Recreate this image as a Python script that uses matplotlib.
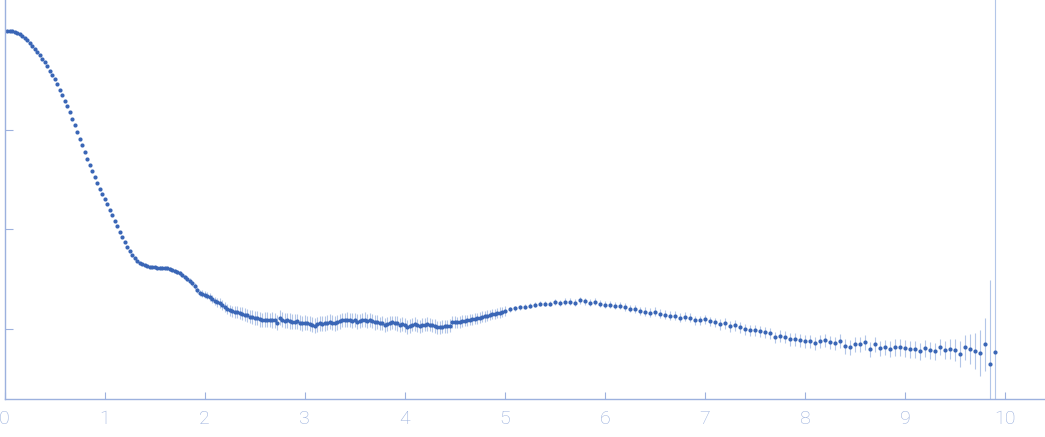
import numpy as np
import matplotlib.pyplot as plt

# scattering curve, log10 of intensity
q_low = [
    0.025, 0.05, 0.075, 0.1, 0.125, 0.15, 0.175, 0.2, 0.225, 0.25,
    0.275, 0.3, 0.325, 0.35, 0.375, 0.4, 0.425, 0.45, 0.475, 0.5,
    0.525, 0.55, 0.575, 0.6, 0.625, 0.65, 0.675, 0.7, 0.725, 0.75,
    0.775, 0.8, 0.825, 0.85, 0.875, 0.9, 0.925, 0.95, 0.975, 1.0,
    1.025, 1.05, 1.075, 1.1, 1.125, 1.15, 1.175, 1.2, 1.225, 1.25,
    1.275, 1.3, 1.325, 1.35, 1.375, 1.4, 1.425, 1.45, 1.475, 1.5,
    1.525, 1.55, 1.575, 1.6, 1.625, 1.65, 1.675, 1.7, 1.725, 1.75,
    1.775, 1.8, 1.825, 1.85, 1.875, 1.9, 1.925, 1.95, 1.975, 2.0,
    2.025, 2.05, 2.075, 2.1, 2.125, 2.15, 2.175, 2.2, 2.225, 2.25,
    2.275, 2.3, 2.325, 2.35, 2.375, 2.4, 2.425, 2.45, 2.475, 2.5,
    2.525, 2.55, 2.575, 2.6, 2.625, 2.65, 2.675, 2.7, 2.725, 2.75,
    2.775, 2.8, 2.825, 2.85, 2.875, 2.9, 2.925, 2.95, 2.975, 3.0,
    3.025, 3.05, 3.075, 3.1, 3.125, 3.15, 3.175, 3.2, 3.225, 3.25,
    3.275, 3.3, 3.325, 3.35, 3.375, 3.4, 3.425, 3.45, 3.475, 3.5,
    3.525, 3.55, 3.575, 3.6, 3.625, 3.65, 3.675, 3.7, 3.725, 3.75,
    3.775, 3.8, 3.825, 3.85, 3.875, 3.9, 3.925, 3.95, 3.975, 4.0,
    4.025, 4.05, 4.075, 4.1, 4.125, 4.15, 4.175, 4.2, 4.225, 4.25,
    4.275, 4.3, 4.325, 4.35, 4.375, 4.4, 4.425, 4.45, 4.475, 4.5,
    4.525, 4.55, 4.575, 4.6, 4.625, 4.65, 4.675, 4.7, 4.725, 4.75,
    4.775, 4.8, 4.825, 4.85, 4.875, 4.9, 4.925, 4.95, 4.975, 5.0,
]
logI_low = [
    -0.007, -0.009, -0.013, -0.020, -0.030, -0.043, -0.060, -0.080, -0.103, -0.130,
    -0.157, -0.187, -0.218, -0.252, -0.288, -0.325, -0.365, -0.407, -0.450, -0.495,
    -0.545, -0.598, -0.652, -0.708, -0.765, -0.825, -0.890, -0.955, -1.023, -1.090,
    -1.158, -1.225, -1.290, -1.355, -1.418, -1.478, -1.535, -1.590, -1.643, -1.695,
    -1.748, -1.802, -1.858, -1.913, -1.970, -2.025, -2.080, -2.130, -2.178, -2.220,
    -2.258, -2.290, -2.315, -2.333, -2.348, -2.358, -2.366, -2.372, -2.376, -2.380,
    -2.382, -2.383, -2.385, -2.387, -2.390, -2.396, -2.403, -2.412, -2.425, -2.440,
    -2.457, -2.475, -2.493, -2.515, -2.540, -2.570, -2.605, -2.635, -2.645, -2.655,
    -2.665, -2.680, -2.700, -2.720, -2.730, -2.738, -2.755, -2.775, -2.795, -2.810,
    -2.820, -2.825, -2.828, -2.835, -2.845, -2.855, -2.862, -2.875, -2.880, -2.885,
    -2.890, -2.900, -2.908, -2.907, -2.907, -2.907, -2.907, -2.910, -2.935, -2.885,
    -2.905, -2.915, -2.910, -2.917, -2.925, -2.927, -2.920, -2.935, -2.943, -2.935,
    -2.938, -2.945, -2.955, -2.965, -2.950, -2.940, -2.945, -2.940, -2.935, -2.925,
    -2.935, -2.940, -2.930, -2.920, -2.910, -2.907, -2.905, -2.910, -2.915, -2.910,
    -2.925, -2.917, -2.910, -2.905, -2.915, -2.907, -2.920, -2.933, -2.925, -2.943,
    -2.940, -2.957, -2.950, -2.940, -2.933, -2.935, -2.943, -2.957, -2.950, -2.960,
    -2.977, -2.965, -2.955, -2.950, -2.960, -2.973, -2.960, -2.955, -2.950, -2.955,
    -2.960, -2.970, -2.983, -2.983, -2.975, -2.973, -2.970, -2.967, -2.925, -2.930,
    -2.933, -2.930, -2.920, -2.915, -2.910, -2.905, -2.900, -2.897, -2.890, -2.883,
    -2.875, -2.870, -2.865, -2.858, -2.850, -2.845, -2.840, -2.833, -2.825, -2.820,
]
# error half-width in decades
dex_low = [
    0.004, 0.004, 0.004, 0.004, 0.004, 0.004, 0.004, 0.004, 0.004, 0.004,
    0.004, 0.004, 0.004, 0.004, 0.004, 0.004, 0.004, 0.004, 0.004, 0.004,
    0.004, 0.004, 0.004, 0.004, 0.004, 0.004, 0.004, 0.004, 0.004, 0.004,
    0.004, 0.004, 0.004, 0.004, 0.004, 0.004, 0.004, 0.004, 0.004, 0.004,
    0.006, 0.006, 0.006, 0.006, 0.006, 0.006, 0.006, 0.006, 0.006, 0.006,
    0.006, 0.006, 0.006, 0.006, 0.006, 0.006, 0.006, 0.006, 0.006, 0.006,
    0.012, 0.012, 0.014, 0.014, 0.015, 0.016, 0.017, 0.018, 0.019, 0.020,
    0.021, 0.022, 0.024, 0.025, 0.027, 0.028, 0.030, 0.032, 0.033, 0.035,
    0.036, 0.038, 0.040, 0.042, 0.044, 0.046, 0.048, 0.050, 0.052, 0.054,
    0.056, 0.058, 0.060, 0.062, 0.063, 0.065, 0.066, 0.068, 0.069, 0.070,
    0.072, 0.074, 0.073, 0.076, 0.075, 0.074, 0.077, 0.075, 0.078, 0.076,
    0.074, 0.076, 0.075, 0.077, 0.074, 0.076, 0.075, 0.078, 0.075, 0.076,
    0.075, 0.077, 0.074, 0.076, 0.075, 0.074, 0.076, 0.075, 0.077, 0.074,
    0.075, 0.076, 0.074, 0.075, 0.073, 0.074, 0.075, 0.073, 0.074, 0.072,
    0.073, 0.074, 0.072, 0.073, 0.071, 0.072, 0.073, 0.071, 0.072, 0.070,
    0.071, 0.072, 0.070, 0.071, 0.069, 0.070, 0.071, 0.069, 0.070, 0.068,
    0.069, 0.070, 0.068, 0.069, 0.067, 0.068, 0.069, 0.067, 0.068, 0.066,
    0.067, 0.068, 0.066, 0.067, 0.065, 0.066, 0.065, 0.064, 0.062, 0.062,
    0.060, 0.060, 0.058, 0.058, 0.057, 0.057, 0.056, 0.056, 0.055, 0.055,
    0.054, 0.054, 0.053, 0.053, 0.052, 0.052, 0.051, 0.051, 0.050, 0.050,
]

q_high = [
    5.05, 5.10, 5.15, 5.20, 5.25, 5.30, 5.35, 5.40, 5.45, 5.50,
    5.55, 5.60, 5.65, 5.70, 5.75, 5.80, 5.85, 5.90, 5.95, 6.00,
    6.05, 6.10, 6.15, 6.20, 6.25, 6.30, 6.35, 6.40, 6.45, 6.50,
    6.55, 6.60, 6.65, 6.70, 6.75, 6.80, 6.85, 6.90, 6.95, 7.00,
    7.05, 7.10, 7.15, 7.20, 7.25, 7.30, 7.35, 7.40, 7.45, 7.50,
    7.55, 7.60, 7.65, 7.70, 7.75, 7.80, 7.85, 7.90, 7.95, 8.00,
    8.05, 8.10, 8.15, 8.20, 8.25, 8.30, 8.35, 8.40, 8.45, 8.50,
    8.55, 8.60, 8.65, 8.70, 8.75, 8.80, 8.85, 8.90, 8.95, 9.00,
    9.05, 9.10, 9.15, 9.20, 9.25, 9.30, 9.35, 9.40, 9.45, 9.50,
    9.55, 9.60, 9.65, 9.70, 9.75, 9.80, 9.85, 9.90,
]
logI_high = [
    -2.800, -2.790, -2.780, -2.773, -2.763, -2.753, -2.743, -2.743, -2.743, -2.723,
    -2.733, -2.723, -2.723, -2.733, -2.710, -2.720, -2.733, -2.723, -2.743, -2.753,
    -2.753, -2.763, -2.763, -2.777, -2.793, -2.793, -2.813, -2.823, -2.833, -2.823,
    -2.843, -2.853, -2.863, -2.863, -2.883, -2.873, -2.883, -2.913, -2.913, -2.903,
    -2.923, -2.933, -2.953, -2.943, -2.973, -2.963, -2.983, -3.003, -3.013, -3.013,
    -3.023, -3.033, -3.043, -3.083, -3.073, -3.083, -3.103, -3.103, -3.113, -3.123,
    -3.123, -3.143, -3.123, -3.113, -3.133, -3.143, -3.123, -3.173, -3.183, -3.153,
    -3.153, -3.133, -3.203, -3.153, -3.193, -3.183, -3.203, -3.183, -3.183, -3.193,
    -3.203, -3.203, -3.223, -3.193, -3.213, -3.223, -3.183, -3.213, -3.203, -3.213,
    -3.253, -3.183, -3.203, -3.223, -3.243, -3.153, -3.353, -3.233,
]
dex_high = [
    0.025, 0.025, 0.025, 0.025, 0.025, 0.026, 0.026, 0.027, 0.027, 0.030,
    0.030, 0.031, 0.031, 0.032, 0.033, 0.033, 0.034, 0.035, 0.035, 0.036,
    0.036, 0.037, 0.038, 0.038, 0.039, 0.040, 0.040, 0.041, 0.041, 0.042,
    0.042, 0.043, 0.044, 0.044, 0.045, 0.046, 0.046, 0.047, 0.048, 0.049,
    0.049, 0.050, 0.051, 0.052, 0.052, 0.053, 0.054, 0.055, 0.055, 0.056,
    0.057, 0.058, 0.058, 0.059, 0.060, 0.060, 0.061, 0.062, 0.063, 0.064,
    0.065, 0.066, 0.066, 0.067, 0.068, 0.069, 0.070, 0.071, 0.072, 0.073,
    0.074, 0.075, 0.076, 0.077, 0.078, 0.079, 0.080, 0.081, 0.082, 0.083,
    0.084, 0.085, 0.085, 0.086, 0.086, 0.087, 0.080, 0.090, 0.100, 0.110,
    0.130, 0.125, 0.150, 0.180, 0.230, 0.270, 0.850, 4.000,
]

q = np.array(q_low + q_high)
I = 10.0 ** np.array(logI_low + logI_high)
dex = np.array(dex_low + dex_high)
err = [I - I * 10.0 ** -dex, I * 10.0 ** dex - I]

axis_col = '#9cb1de'
text_col = '#98aedc'

fig = plt.figure(figsize=(10.45, 4.37), dpi=100)
ax = fig.add_axes([4.5 / 1045, 38 / 437, 1 - 4.5 / 1045, 399 / 437])

ax.errorbar(q, I, yerr=err, fmt='none', ecolor='#b3c6e8', elinewidth=0.8, zorder=1)
ax.plot(q, I, 'o', ms=3.0, color='#3a66b6', mec='none', zorder=2)

ax.set_yscale('log')
ax.set_xlim(0, 10.4)
ax.set_ylim(10 ** -3.70, 10 ** 0.30)
ax.set_xticks(range(11))
ax.set_yticks([1, 0.1, 0.01, 0.001])
ax.yaxis.set_minor_locator(plt.NullLocator())
ax.set_yticklabels([])

for s in ['top', 'right']:
    ax.spines[s].set_visible(False)
for s in ['left', 'bottom']:
    ax.spines[s].set_color(axis_col)
    ax.spines[s].set_linewidth(1.0)

ax.tick_params(axis='x', direction='in', length=5, width=0.8, color=axis_col,
               labelcolor=text_col, labelsize=14, pad=8)
ax.tick_params(axis='y', direction='in', length=6, width=0.8, color=axis_col)
for lab in ax.get_xticklabels():
    lab.set_fontfamily(['Roboto', 'DejaVu Sans'])
    lab.set_fontweight('light')

fig.savefig('out.png', dpi=100)
